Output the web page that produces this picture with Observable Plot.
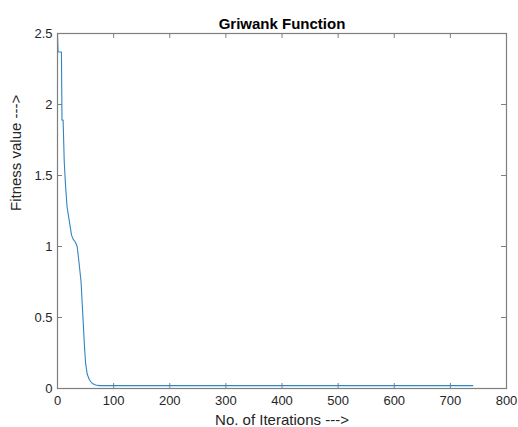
<!DOCTYPE html>
<html>
<head>
<meta charset="utf-8">
<script src="https://cdn.jsdelivr.net/npm/d3@7"></script>
<script src="https://cdn.jsdelivr.net/npm/@observablehq/plot@0.6"></script>
<style>
  html, body { margin: 0; padding: 0; background: #fff; }
  #chart svg { display: block; }
</style>
</head>
<body>
<div id="chart"></div>
<script>
const titleText = "Griwank Function";
const xLabel = "No. of Iterations --->";
const yLabel = "Fitness value --->";

const iterations = [0, 1, 7, 8, 10, 12, 14, 17, 21, 25, 28, 32, 35, 38, 42, 44, 46, 48, 50, 53, 57, 62, 68, 75, 740];
const fitness = [2.5, 2.37, 2.37, 1.89, 1.89, 1.6, 1.45, 1.28, 1.18, 1.08, 1.05, 1.03, 1.0, 0.9, 0.75, 0.6, 0.45, 0.3, 0.18, 0.1, 0.06, 0.035, 0.025, 0.02, 0.02];

const xTicks = [0, 100, 200, 300, 400, 500, 600, 700, 800];
const yTicks = [0, 0.5, 1, 1.5, 2, 2.5];

const data = iterations.map((x, i) => ({x, y: fitness[i]}));

const W = 518, H = 427;
const mL = 57, mR = 12, mT = 33, mB = 39;
const pw = W - mL - mR, ph = H - mT - mB;
const tick = 5;
const axisColor = "#7f7f7f";
const textColor = "#262626";

const chart = Plot.plot({
  width: W,
  height: H,
  marginLeft: mL,
  marginRight: mR,
  marginTop: mT,
  marginBottom: mB,
  style: {fontFamily: "'Liberation Sans', Arial, Helvetica, sans-serif", fontSize: "13px", color: textColor, background: "#fff"},
  x: {domain: [0, 800]},
  y: {domain: [0, 2.5]},
  marks: [
    Plot.tickX(xTicks, {x: d => d, stroke: axisColor, insetTop: ph - tick}),
    Plot.tickX(xTicks, {x: d => d, stroke: axisColor, insetBottom: ph - tick}),
    Plot.tickY(yTicks, {y: d => d, stroke: axisColor, insetRight: pw - tick}),
    Plot.tickY(yTicks, {y: d => d, stroke: axisColor, insetLeft: pw - tick}),
    Plot.line(data, {x: "x", y: "y", stroke: "#2f86c2", strokeWidth: 1.1}),
    Plot.frame({stroke: axisColor, strokeWidth: 1.2}),
    Plot.axisX(xTicks, {tickSize: 0, tickPadding: 7, fill: textColor, label: null}),
    Plot.axisY(yTicks, {tickSize: 0, tickPadding: 5, fill: textColor, tickFormat: d => String(d), label: null}),
    Plot.text([xLabel], {frameAnchor: "bottom", lineAnchor: "bottom", dy: 36, fontSize: 15, fill: textColor}),
    Plot.text([yLabel], {frameAnchor: "left", dx: -41, rotate: -90, fontSize: 15, fill: textColor}),
    Plot.text([titleText], {frameAnchor: "top", lineAnchor: "bottom", dy: -5, fontSize: 15, fontWeight: "bold", fill: "#000"})
  ]
});
document.getElementById("chart").appendChild(chart);
</script>
</body>
</html>
